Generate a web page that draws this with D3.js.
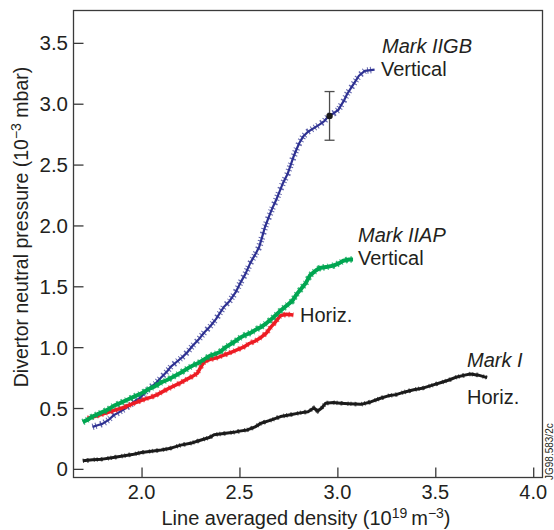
<!DOCTYPE html>
<html>
<head>
<meta charset="utf-8">
<script src="https://cdn.jsdelivr.net/npm/d3@7"></script>
<style>
  body { margin: 0; background: #fff; }
  text { font-family: "Liberation Sans", Arial, sans-serif; fill: #231f20; }
</style>
</head>
<body>
<script>
var width = 554;
var height = 530;

// Mark IIGB vertical (blue)
var gbX = [1.75,1.78,1.80,1.83,1.857,1.88,1.91,1.94,1.96,1.99,2.02,2.045,2.07,2.10,2.13,2.15,2.18,2.21,2.235,2.26,2.29,2.32,2.35,2.38,2.42,2.45,2.48,2.505,2.53,2.555,2.58,2.60,2.615,2.63,2.65,2.67,2.685,2.70,2.72,2.745,2.76,2.775,2.79,2.805,2.825,2.85,2.88,2.91,2.935,2.955,2.98,3.005,3.02,3.035,3.05,3.07,3.09,3.11,3.14,3.19];
var gbY = [0.345,0.36,0.37,0.40,0.44,0.46,0.49,0.52,0.55,0.58,0.63,0.67,0.70,0.75,0.80,0.84,0.88,0.92,0.96,1.01,1.06,1.12,1.17,1.23,1.33,1.38,1.45,1.53,1.60,1.69,1.76,1.82,1.90,1.985,2.07,2.15,2.20,2.26,2.34,2.42,2.49,2.56,2.62,2.675,2.73,2.77,2.80,2.83,2.86,2.90,2.92,2.95,2.99,3.03,3.08,3.13,3.18,3.23,3.27,3.28];

// Mark IIAP vertical (green)
var apvX = [1.70,1.72,1.75,1.79,1.82,1.86,1.89,1.93,1.97,2.00,2.03,2.07,2.10,2.13,2.16,2.20,2.24,2.27,2.29,2.32,2.35,2.37,2.40,2.43,2.46,2.48,2.505,2.53,2.56,2.59,2.61,2.64,2.67,2.69,2.71,2.74,2.77,2.79,2.81,2.84,2.86,2.89,2.91,2.95,2.98,3.01,3.03,3.06,3.08];
var apvY = [0.385,0.40,0.43,0.46,0.48,0.52,0.54,0.57,0.60,0.62,0.65,0.68,0.71,0.73,0.755,0.79,0.83,0.855,0.87,0.90,0.93,0.94,0.96,1.00,1.03,1.05,1.08,1.10,1.12,1.15,1.165,1.20,1.24,1.27,1.30,1.34,1.38,1.43,1.47,1.53,1.59,1.63,1.65,1.66,1.67,1.69,1.71,1.72,1.72];

// Mark IIAP horizontal (red)
var aphX = [1.725,1.76,1.80,1.83,1.86,1.90,1.94,1.98,2.02,2.05,2.08,2.12,2.15,2.19,2.23,2.26,2.285,2.30,2.32,2.35,2.39,2.42,2.46,2.49,2.52,2.55,2.58,2.61,2.64,2.66,2.68,2.71,2.74,2.775];
var aphY = [0.415,0.43,0.45,0.465,0.48,0.50,0.525,0.55,0.575,0.59,0.61,0.645,0.67,0.70,0.735,0.76,0.785,0.83,0.88,0.90,0.915,0.935,0.96,0.98,1.00,1.03,1.05,1.08,1.12,1.165,1.20,1.26,1.27,1.265];

// Mark I horizontal (black)
var m1X = [1.70,1.75,1.80,1.84,1.88,1.92,1.96,2.00,2.05,2.10,2.15,2.20,2.25,2.30,2.35,2.37,2.42,2.47,2.50,2.54,2.58,2.61,2.66,2.71,2.76,2.81,2.85,2.88,2.90,2.92,2.94,2.98,3.015,3.06,3.12,3.17,3.22,3.26,3.30,3.34,3.39,3.44,3.49,3.53,3.57,3.61,3.65,3.68,3.72,3.765];
var m1Y = [0.066,0.075,0.08,0.09,0.10,0.11,0.12,0.135,0.145,0.155,0.17,0.195,0.21,0.235,0.26,0.28,0.29,0.30,0.31,0.32,0.345,0.375,0.40,0.43,0.445,0.46,0.47,0.50,0.475,0.50,0.54,0.545,0.54,0.535,0.53,0.55,0.58,0.60,0.61,0.63,0.65,0.665,0.69,0.71,0.73,0.755,0.77,0.78,0.77,0.75];

// error bar on the Mark IIGB trace
var errX = 2.96, errY = 2.90, errLo = 2.70, errHi = 3.10;

var xTicks = [2.0, 2.5, 3.0, 3.5, 4.0];
var yTicks = [0, 0.5, 1.0, 1.5, 2.0, 2.5, 3.0, 3.5];

var svg = d3.select("body").append("svg")
    .attr("width", width)
    .attr("height", height);

var x = d3.scaleLinear().domain([1.65, 4.05]).range([73, 543]);
var y = d3.scaleLinear().domain([-0.075, 3.77]).range([478, 10]);

function zipXY(xs, ys) {
  return xs.map(function(v, i) { return [v, ys[i]]; });
}

var line = d3.line()
    .x(function(d) { return x(d[0]); })
    .y(function(d) { return y(d[1]); });

// frame
svg.append("rect")
    .attr("x", 73.5).attr("y", 10.5)
    .attr("width", 469).attr("height", 467)
    .attr("fill", "none")
    .attr("stroke", "#3a3a3a")
    .attr("stroke-width", 1.3);

svg.append("g")
    .attr("transform", "translate(0,477.5)")
    .call(d3.axisTop(x).tickValues(xTicks).tickSize(10).tickFormat(""));
svg.append("g")
    .attr("transform", "translate(73.5,0)")
    .call(d3.axisRight(y).tickValues(yTicks).tickSize(10).tickFormat(""));
svg.selectAll(".domain").remove();
svg.selectAll(".tick line").attr("stroke", "#3a3a3a").attr("stroke-width", 1.3);

svg.append("g").selectAll("text")
    .data(xTicks)
  .enter().append("text")
    .attr("x", function(d) { return x(d); })
    .attr("y", 499)
    .attr("text-anchor", "middle")
    .attr("font-size", "20px")
    .text(function(d) { return d.toFixed(1); });

svg.append("g").selectAll("text")
    .data(yTicks)
  .enter().append("text")
    .attr("x", 68)
    .attr("y", function(d) { return y(d) + 7.5; })
    .attr("text-anchor", "end")
    .attr("font-size", "20.5px")
    .text(function(d) { return d === 0 ? "0" : d.toFixed(1); });

// axis titles
var xt = svg.append("text")
    .attr("x", 306).attr("y", 525)
    .attr("text-anchor", "middle")
    .attr("font-size", "20px");
xt.append("tspan").text("Line averaged density (10");
xt.append("tspan").attr("dy", -7).attr("font-size", "14px").text("19");
xt.append("tspan").attr("dy", 7).text("\u2009m");
xt.append("tspan").attr("dy", -7).attr("font-size", "14px").text("\u22123");
xt.append("tspan").attr("dy", 7).text(")");

var yt = svg.append("text")
    .attr("transform", "translate(27.5,227) rotate(-90)")
    .attr("text-anchor", "middle")
    .attr("font-size", "19.5px");
yt.append("tspan").text("Divertor neutral pressure (10");
yt.append("tspan").attr("dy", -7).attr("font-size", "14px").text("\u22123");
yt.append("tspan").attr("dy", 7).text(" mbar)");

// traces
var traces = svg.append("g");

function trace(xs, ys, color, w, hatchW, dash, op) {
  traces.append("path")
      .datum(zipXY(xs, ys))
      .attr("d", line)
      .attr("fill", "none")
      .attr("stroke", color)
      .attr("stroke-width", w)
      .attr("stroke-linejoin", "round");
  // ragged edge from the noisy signal
  traces.append("path")
      .datum(zipXY(xs, ys))
      .attr("d", line)
      .attr("fill", "none")
      .attr("stroke", color)
      .attr("stroke-width", hatchW)
      .attr("stroke-dasharray", dash)
      .attr("opacity", op);
}

trace(m1X, m1Y, "#1b1b1b", 3, 4.5, "1,3,2,5,1,2", 0.7);
trace(gbX, gbY, "#2e3192", 2.2, 6.5, "1,2,1,4,1.5,3,1,2.5", 0.75);
trace(aphX, aphY, "#ed1c24", 3.5, 5.5, "1.5,3,1,4,2,3", 0.7);
trace(apvX, apvY, "#00a651", 4, 6.5, "1.5,3,1,4,2,3", 0.75);

// error bar
var eb = svg.append("g").attr("stroke", "#4d4d4d").attr("stroke-width", 1.3);
eb.append("line")
    .attr("x1", x(errX)).attr("x2", x(errX))
    .attr("y1", y(errLo)).attr("y2", y(errHi));
[errLo, errHi].forEach(function(v) {
  eb.append("line")
      .attr("x1", x(errX) - 5).attr("x2", x(errX) + 5)
      .attr("y1", y(v)).attr("y2", y(v));
});
svg.append("circle")
    .attr("cx", x(errX)).attr("cy", y(errY))
    .attr("r", 3.2)
    .attr("fill", "#1b1b1b");

// labels
function label(px, py, txt, italic) {
  svg.append("text")
      .attr("x", px).attr("y", py)
      .attr("font-size", "20px")
      .attr("font-style", italic ? "italic" : "normal")
      .text(txt);
}
label(382, 53, "Mark IIGB", true);
label(381, 76, "Vertical", false);
label(358, 242, "Mark IIAP", true);
label(358, 265, "Vertical", false);
label(300, 322, "Horiz.", false);
label(467, 367, "Mark I", true);
label(467, 404, "Horiz.", false);

svg.append("text")
    .attr("transform", "translate(553,480) rotate(-90)")
    .attr("font-size", "10px")
    .text("JG98.583/2c");
</script>
</body>
</html>
